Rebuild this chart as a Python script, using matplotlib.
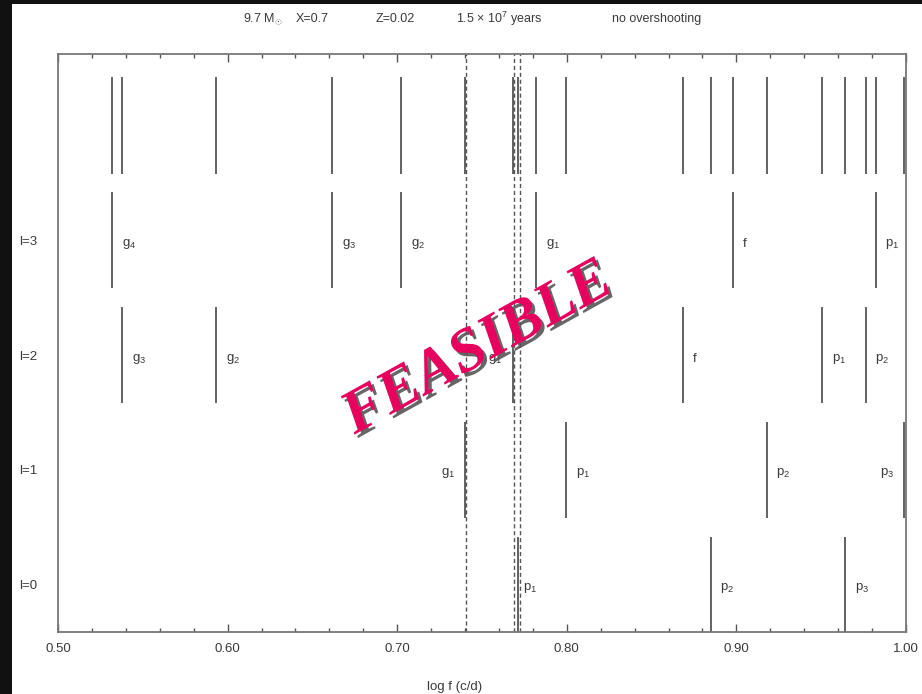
import matplotlib
matplotlib.use("Agg")
import matplotlib.pyplot as plt
from matplotlib.patches import Rectangle
from matplotlib.ticker import MultipleLocator, FormatStrFormatter
import matplotlib.patheffects as pe

plt.rcParams['font.family'] = ['Liberation Sans', 'DejaVu Sans']
plt.rcParams['mathtext.fontset'] = 'custom'
plt.rcParams['mathtext.rm'] = 'Liberation Sans'
plt.rcParams['mathtext.it'] = 'Liberation Sans'

# Mode frequencies (log f, c/d) for each spherical degree
l3_freqs = [0.5317, 0.6617, 0.7021, 0.7817, 0.8982, 0.9821]
l3_names = ['g_4', 'g_3', 'g_2', 'g_1', 'f', 'p_1']
l2_freqs = [0.5379, 0.5932, 0.7680, 0.8683, 0.9507, 0.9762]
l2_names = ['g_3', 'g_2', 'g_1', 'f', 'p_1', 'p_2']
l1_freqs = [0.7400, 0.7995, 0.9178, 0.9990]
l1_names = ['g_1', 'p_1', 'p_2', 'p_3']
l0_freqs = [0.7712, 0.8848, 0.9640]
l0_names = ['p_1', 'p_2', 'p_3']

# Observed frequencies (dashed)
observed = [0.7406, 0.7690, 0.7724]

row_labels = ['l=3', 'l=2', 'l=1', 'l=0']
x_ticks = [0.50, 0.60, 0.70, 0.80, 0.90, 1.00]

# label placement: +1 to the right of the line, -1 to the left
l3_side = [1, 1, 1, 1, 1, 1]
l2_side = [1, 1, -1, 1, 1, 1]
l1_side = [-1, 1, 1, -1]
l0_side = [1, 1, 1]

W, H = 922, 694
fig = plt.figure(figsize=(W / 100, H / 100), dpi=100)

ax_l, ax_r, ax_t, ax_b = 58, 906, 54, 632
ax = fig.add_axes([ax_l / W, 1 - ax_b / H, (ax_r - ax_l) / W, (ax_b - ax_t) / H])

line_col = '#555555'
text_col = '#3a3a3a'
half = 0.42

rows = [
    (3, l3_freqs, l3_names, l3_side),
    (2, l2_freqs, l2_names, l2_side),
    (1, l1_freqs, l1_names, l1_side),
    (0, l0_freqs, l0_names, l0_side),
]

all_freqs = []
for yrow, freqs, names, sides in rows:
    all_freqs.extend(freqs)
    ax.vlines(freqs, yrow - half, yrow + half, color=line_col, lw=1.3)
    for f, n, s in zip(freqs, names, sides):
        name = n if n == 'f' else r'$\mathregular{%s}$' % n
        off = 0.0058 if s > 0 else -0.0058
        if yrow == 0 and n == 'p_1':
            off = 0.003
        ax.text(f + off, yrow - 0.03, name, ha='left' if s > 0 else 'right',
                va='center', fontsize=9.5, color=text_col)

# top row: every mode together
ax.vlines(all_freqs, 4 - half, 4 + half, color=line_col, lw=1.3)

for f in observed:
    ax.axvline(f, color=line_col, lw=1.0, ls=(0, (3, 2)))

ax.set_xlim(0.5, 1.0)
ax.set_ylim(-0.41, 4.62)
ax.set_xticks(x_ticks)
ax.xaxis.set_major_formatter(FormatStrFormatter('%.2f'))
ax.xaxis.set_minor_locator(MultipleLocator(0.02))
ax.set_yticks([3, 2, 1, 0])
ax.set_yticklabels(row_labels)
ax.tick_params(axis='x', which='both', direction='in', top=True, bottom=True,
               colors=line_col, labelcolor=text_col, labelsize=9.5, pad=8)
ax.tick_params(axis='x', which='major', length=6, width=1)
ax.tick_params(axis='x', which='minor', length=3, width=1)
ax.tick_params(axis='y', length=0, pad=15, labelcolor=text_col, labelsize=9.5)
for sp in ax.spines.values():
    sp.set_color('#777777')
    sp.set_linewidth(1.3)

fig.text(455 / W, 1 - 687 / H, 'log f (c/d)', ha='center', va='center',
         fontsize=9.5, color=text_col)

# header, one piece at a time
title_parts = [(243, r'9.7 M$_{\odot}$'), (296, 'X=0.7'), (376, 'Z=0.02'),
               (456, r'1.5 $\times$ 10$^{7}$ years'), (612, 'no overshooting')]
for xp, s in title_parts:
    fig.text(xp / W, 1 - 19 / H, s, ha='left', va='center', fontsize=9,
             color=text_col)

# stamp
fig.text(478 / W, 1 - 349 / H, 'FEASIBLE', ha='center', va='center',
         rotation=29, fontsize=44, fontweight='bold', fontstyle='italic',
         family='Liberation Serif', color='#E8005F',
         path_effects=[pe.withSimplePatchShadow(offset=(2.5, -2.5),
                                                shadow_rgbFace='#555555',
                                                alpha=0.9)])

# dark border strips along the left and top edges
edge_col = '#111111'
fig.patches.append(Rectangle((0, 0), 12 / W, 1, transform=fig.transFigure,
                             facecolor=edge_col, edgecolor='none', zorder=50))
fig.patches.append(Rectangle((12 / W, 1 - 4 / H), 1 - 12 / W, 4 / H,
                             transform=fig.transFigure,
                             facecolor=edge_col, edgecolor='none', zorder=50))

fig.savefig('out.png', dpi=100)
